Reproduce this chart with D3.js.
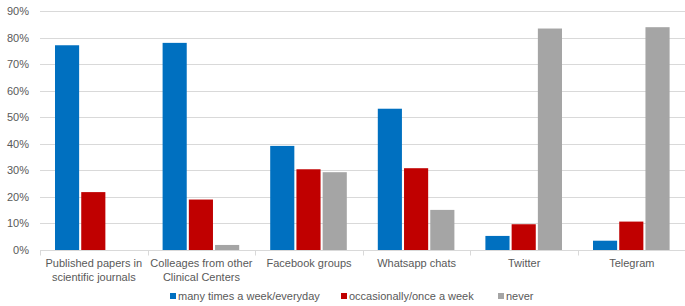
<!DOCTYPE html>
<html>
<head>
<meta charset="utf-8">
<script src="https://cdn.jsdelivr.net/npm/d3@7"></script>
<style>
  body { margin: 0; background: #fff; }
  text { font-family: "Liberation Sans", Arial, sans-serif; fill: #595959; }
</style>
</head>
<body>
<div id="chart"></div>
<script>
// categories (two-line labels)
var categories = [
    ["Published papers in", "scientific journals"],
    ["Colleages from other", "Clinical Centers"],
    ["Facebook groups"],
    ["Whatsapp chats"],
    ["Twitter"],
    ["Telegram"]
];
var seriesNames = ["many times a week/everyday", "occasionally/once a week", "never"];
var seriesColors = ["#0070C0", "#C00000", "#A5A5A5"];

var frequent = [77.1, 78.0, 39.2, 53.2, 5.3, 3.5];
var occasional = [21.8, 19.0, 30.4, 30.8, 9.7, 10.7];
var never = [0, 1.9, 29.3, 15.1, 83.4, 83.9];

var yTicks = [0, 10, 20, 30, 40, 50, 60, 70, 80, 90];

var width = 685, height = 306;
var margin = {top: 11, right: 0, bottom: 56, left: 40};

var svg = d3.select("#chart").append("svg")
    .attr("width", width)
    .attr("height", height);

var series = [frequent, occasional, never];

var x = d3.scaleBand()
    .domain(d3.range(categories.length))
    .range([margin.left, margin.left + 107.6 * categories.length])
    .paddingInner(0)
    .paddingOuter(0);

var x1 = d3.scaleBand()
    .domain(d3.range(series.length))
    .range([15, x.bandwidth() - 16])
    .paddingInner(0.08);

var y = d3.scaleLinear()
    .domain([0, 90])
    .range([height - margin.bottom, margin.top]);

// gridlines
svg.append("g").selectAll("line")
    .data(yTicks.slice(1))
    .enter().append("line")
    .attr("x1", margin.left)
    .attr("x2", width)
    .attr("y1", function(d) { return Math.round(y(d)) + 0.5; })
    .attr("y2", function(d) { return Math.round(y(d)) + 0.5; })
    .attr("stroke", "#D9D9D9")
    .attr("stroke-width", 1);

// y labels
svg.append("g").selectAll("text")
    .data(yTicks)
    .enter().append("text")
    .attr("x", 29)
    .attr("y", function(d) { return y(d) + 4; })
    .attr("text-anchor", "end")
    .style("font-size", "11px")
    .text(function(d) { return d + "%"; });

// bars
var groups = svg.append("g").selectAll("g")
    .data(categories)
    .enter().append("g")
    .attr("transform", function(d, i) { return "translate(" + x(i) + ",0)"; });

groups.selectAll("rect")
    .data(function(d, i) { return series.map(function(s, k) { return {k: k, v: s[i]}; }); })
    .enter().append("rect")
    .attr("x", function(d) { return x1(d.k); })
    .attr("width", x1.bandwidth())
    .attr("y", function(d) { return y(d.v); })
    .attr("height", function(d) { return y(0) - y(d.v); })
    .attr("fill", function(d) { return seriesColors[d.k]; });

// baseline + ticks
var base = Math.round(y(0)) + 0.5;
svg.append("line")
    .attr("x1", margin.left).attr("x2", width)
    .attr("y1", base).attr("y2", base)
    .attr("stroke", "#D9D9D9");
svg.append("g").selectAll("line")
    .data(d3.range(categories.length + 1))
    .enter().append("line")
    .attr("x1", function(i) { return Math.round(margin.left + i * x.bandwidth()) + 0.5; })
    .attr("x2", function(i) { return Math.round(margin.left + i * x.bandwidth()) + 0.5; })
    .attr("y1", base).attr("y2", base + 5)
    .attr("stroke", "#D9D9D9");

// category labels
groups.append("text")
    .attr("text-anchor", "middle")
    .style("font-size", "11px")
    .selectAll("tspan")
    .data(function(d) { return d; })
    .enter().append("tspan")
    .attr("x", x.bandwidth() / 2)
    .attr("y", function(d, j) { return 267 + j * 13.5; })
    .text(function(d) { return d; });

// legend
var legendX = [170, 341, 498];
var legend = svg.append("g").selectAll("g")
    .data(seriesNames)
    .enter().append("g")
    .attr("transform", function(d, i) { return "translate(" + legendX[i] + ",293)"; });
legend.append("rect")
    .attr("width", 6).attr("height", 6)
    .attr("fill", function(d, i) { return seriesColors[i]; });
legend.append("text")
    .attr("x", 8)
    .attr("y", 7)
    .style("font-size", "11px")
    .text(function(d) { return d; });
</script>
</body>
</html>
